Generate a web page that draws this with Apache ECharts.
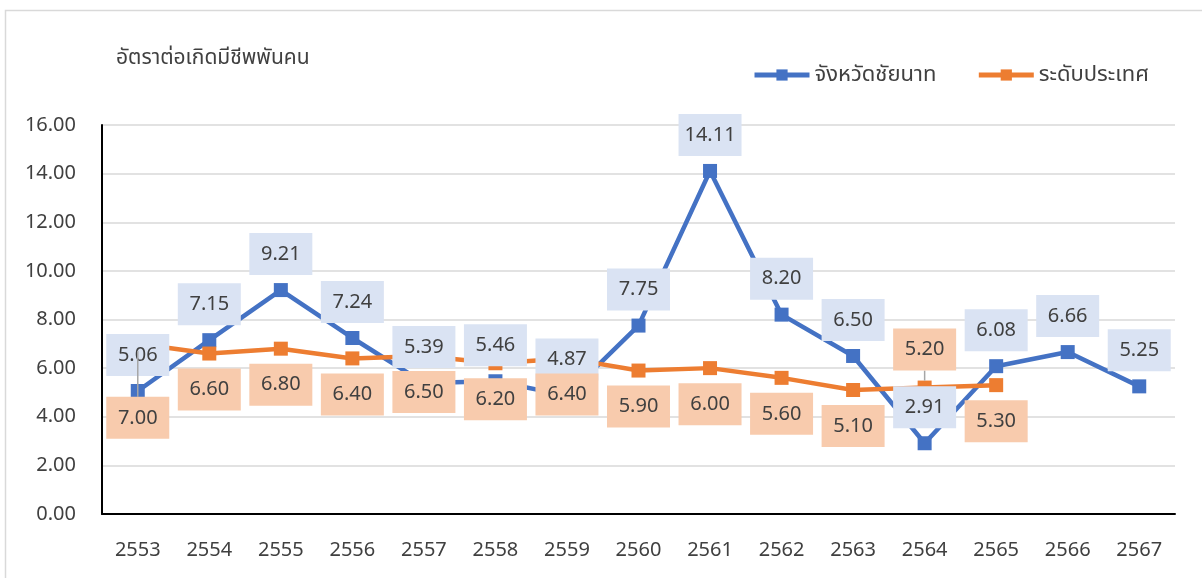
<!DOCTYPE html>
<html>
<head>
<meta charset="utf-8">
<script src="https://cdn.jsdelivr.net/npm/echarts@6/dist/echarts.min.js"></script>
<style>
  html, body { margin: 0; padding: 0; background: #fff; }
  #chart { width: 1202px; height: 578px; }
</style>
</head>
<body>
<div id="chart"></div>
<script>
// ข้อมูล
var years = ['2553', '2554', '2555', '2556', '2557', '2558', '2559', '2560', '2561', '2562', '2563', '2564', '2565', '2566', '2567'];
var chainat = [5.06, 7.15, 9.21, 7.24, 5.39, 5.46, 4.87, 7.75, 14.11, 8.20, 6.50, 2.91, 6.08, 6.66, 5.25];
var national = [7.00, 6.60, 6.80, 6.40, 6.50, 6.20, 6.40, 5.90, 6.00, 5.60, 5.10, 5.20, 5.30];
var yTicks = [0, 2, 4, 6, 8, 10, 12, 14, 16];
// ป้ายของระดับประเทศที่ถูกเลื่อน (มีเส้นโยง)
var movedNational = [0, 11];

var FONT = '"Noto Sans", "Noto Sans Thai", Tahoma, sans-serif';
var textColor = '#404040';
var BLUE = '#4472C4', ORANGE = '#ED7D31';

// ป้ายกำกับแบบกล่อง
function boxLabel(bg, pos) {
  return {
    show: true,
    position: pos,
    distance: 8,
    color: textColor,
    fontSize: 20,
    fontFamily: FONT,
    backgroundColor: bg,
    width: 63,
    align: 'center',
    padding: [11, 0],
    formatter: function (p) { return p.value.toFixed(2); }
  };
}

// ซีรีส์เส้น
function lineSeries(name, data, color, z) {
  return {
    name: name,
    type: 'line',
    data: data,
    symbol: 'rect',
    symbolSize: 14,
    color: color,
    lineStyle: { width: 4.5, color: color },
    itemStyle: { color: color },
    label: { show: false },
    z: z
  };
}

// ซีรีส์เฉพาะป้าย (ให้ป้ายอยู่บนเส้นทั้งหมด)
function labelSeries(name, data, bg, pos, z) {
  return {
    name: name,
    type: 'line',
    data: data,
    symbol: 'rect',
    symbolSize: 14,
    silent: true,
    lineStyle: { width: 0, color: 'rgba(0,0,0,0)' },
    itemStyle: { color: 'rgba(0,0,0,0)' },
    label: boxLabel(bg, pos),
    labelLine: { show: false, lineStyle: { color: '#a6a6a6', width: 1.5 } },
    z: z
  };
}

var nationalLabelData = national.map(function (v, i) {
  var item = { value: v };
  if (movedNational.indexOf(i) >= 0) item.labelLine = { show: true };
  return item;
});

var myChart = echarts.init(document.getElementById('chart'));
var option = {
  backgroundColor: '#fff',
  textStyle: { fontFamily: FONT },
  animation: false,
  title: {
    text: 'อัตราต่อเกิดมีชีพพันคน',
    left: 111,
    top: 43,
    textStyle: { fontSize: 21, fontWeight: 'normal', color: textColor, fontFamily: FONT }
  },
  legend: {
    right: 48,
    top: 59,
    itemWidth: 55,
    itemHeight: 14,
    itemGap: 40,
    lineStyle: { width: 5 },
    textStyle: { fontSize: 22, color: textColor, fontFamily: FONT },
    data: ['จังหวัดชัยนาท', 'ระดับประเทศ']
  },
  graphic: [{
    type: 'rect',
    shape: { x: 5.5, y: 10.5, width: 1220, height: 600 },
    style: { fill: 'none', stroke: '#d9d9d9', lineWidth: 1.5 },
    silent: true
  }],
  grid: { left: 102, right: 27, top: 125, bottom: 64 },
  xAxis: {
    type: 'category',
    data: years,
    boundaryGap: true,
    axisLine: { lineStyle: { color: '#000', width: 2 } },
    axisTick: { show: false },
    axisLabel: { fontSize: 20, color: textColor, margin: 26, fontFamily: FONT }
  },
  yAxis: {
    type: 'value',
    min: yTicks[0],
    max: yTicks[yTicks.length - 1],
    interval: 2,
    axisLine: { show: true, lineStyle: { color: '#000', width: 2 } },
    axisTick: { show: false },
    splitLine: { lineStyle: { color: '#d9d9d9', width: 1.5 } },
    axisLabel: {
      fontSize: 20, color: textColor, margin: 26, fontFamily: FONT,
      formatter: function (v) { return v.toFixed(2); }
    }
  },
  series: [
    lineSeries('จังหวัดชัยนาท', chainat, BLUE, 2),
    lineSeries('ระดับประเทศ', national, ORANGE, 3),
    labelSeries('ป้ายชัยนาท', chainat, '#DAE3F3', 'top', 4),
    (function () {
      var s = labelSeries('ป้ายประเทศ', nationalLabelData, '#F8CBAD', 'bottom', 5);
      s.labelLayout = function (params) {
        if (params.dataIndex === 0) return { dy: 38 };
        if (params.dataIndex === 11) return { dy: -74 };
        return {};
      };
      return s;
    })()
  ]
};
myChart.setOption(option);
</script>
</body>
</html>
